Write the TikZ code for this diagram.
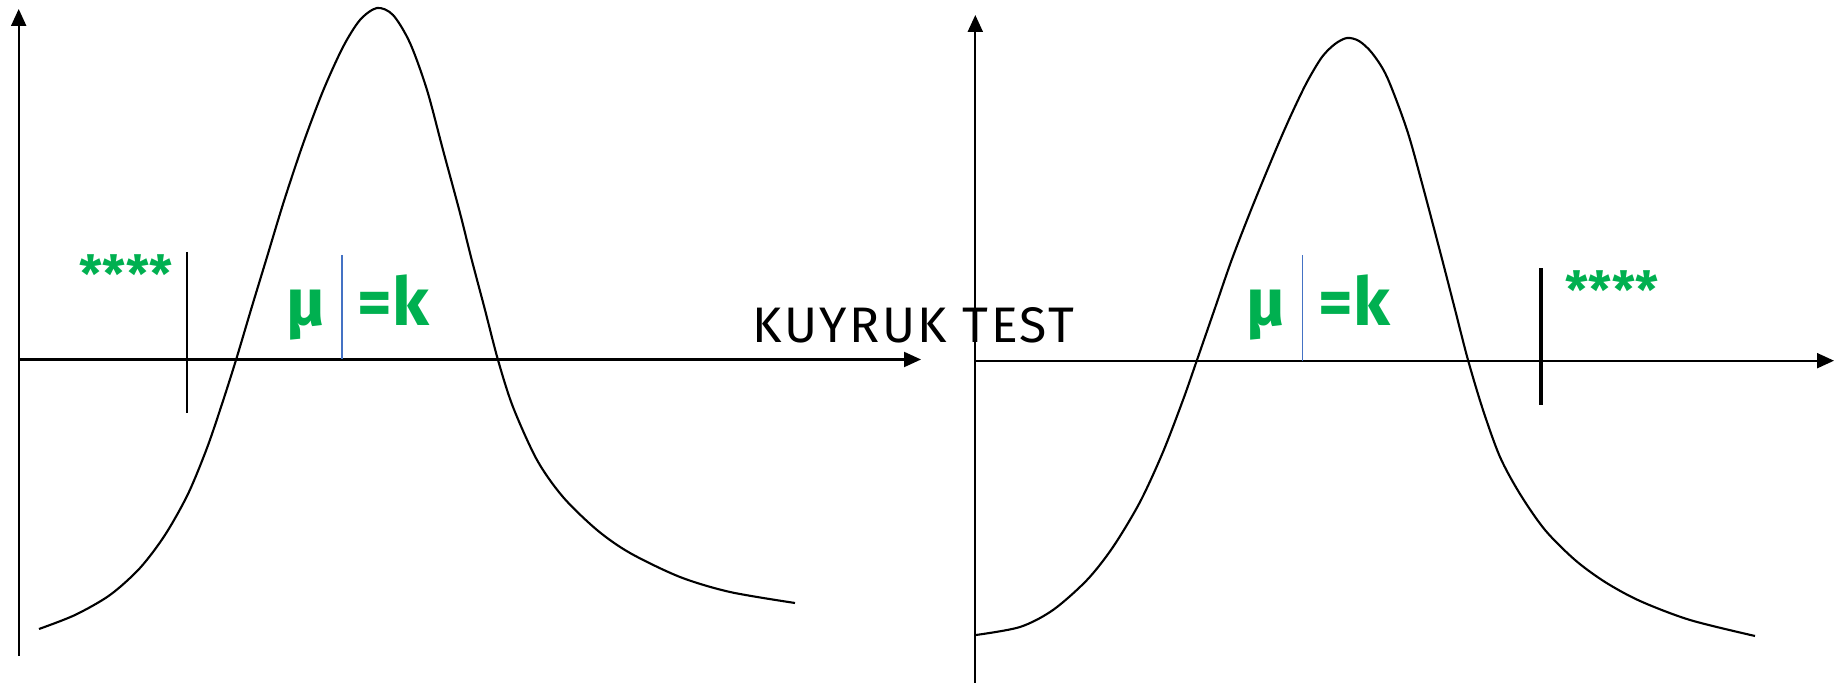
\documentclass[tikz,border=0pt]{standalone}
\usepackage{fontspec}
\setmainfont{Fira Sans}
\usetikzlibrary{arrows.meta}
\definecolor{hgreen}{HTML}{00B050}
\definecolor{hblue}{HTML}{4472C4}

\begin{document}
\begin{tikzpicture}[x=0.01cm, y=-0.01cm, >={Triangle[length=0.17cm,width=0.15cm]},
  axis/.style={->, line width=0.6pt},
  curve/.style={line width=0.6pt, line join=round},
  tickline/.style={line width=0.7pt},
  meanline/.style={hblue, line width=0.4pt},
  greenlbl/.style={text=hgreen, font=\fontsize{19}{22}\selectfont\bfseries, inner sep=0pt},
  stars/.style={text=hgreen, font=\fontsize{14.5}{18}\selectfont\bfseries, inner sep=0pt}]
\useasboundingbox (0,0) rectangle (1836,683);

% Left graph
\coordinate (LO) at (18.7,359.5);
\coordinate (LX) at (921,359.5);
\coordinate (LYb) at (18.7,656);
\coordinate (LYt) at (18.7,9);
\draw[axis] (LO) -- (LX);
\draw[axis] (LYb) -- (LYt);
\coordinate (LTt) at (187,252);
\coordinate (LTb) at (187,413);
\draw[tickline] (LTt) -- (LTb);
\coordinate (LMt) at (342,255);
\coordinate (LMb) at (342,359.5);
\draw[meanline] (LMt) -- (LMb);
\draw[curve] plot[smooth, tension=0.5] coordinates {(39,629) (75,615) (110,595) (140,568) (165,535) (188,494) (207,448) (222,404) (236,360) (251.5,308) (267,257) (284,201) (303,144) (323,91) (343,47) (360,20) (377,8) (393,15) (410,43) (427,90) (443,150) (460,213) (471,257) (484.5,308) (498,360) (513,407) (537,460) (563,497) (597,530) (630,553) (680,577) (730,592) (795,603)};
\node[stars] (lstars) at (126,274) {****};
\node[greenlbl, anchor=base] (lmu) at (306,326) {μ};
\node[greenlbl, anchor=base west] (lk) at (357,326) {=k};

% Title
\node[anchor=base, font=\fontsize{14.2}{16}\selectfont\addfontfeatures{LetterSpace=5}, inner sep=0pt] (title) at (913.5,343) {KUYRUK TEST};

% Right graph
\coordinate (RO) at (975.3,360.7);
\coordinate (RX) at (1834,360.7);
\coordinate (RYb) at (975.3,683);
\coordinate (RYt) at (975.3,15);
\draw[axis] (RO) -- (RX);
\draw[axis] (RYb) -- (RYt);
\coordinate (RTt) at (1541,268.5);
\coordinate (RTb) at (1541,405);
\draw[tickline, line width=0.9pt] (RTt) -- (RTb);
\coordinate (RMt) at (1302.7,255.5);
\coordinate (RMb) at (1302.7,360.7);
\draw[meanline] (RMt) -- (RMb);
\draw[curve] plot[smooth, tension=0.5] coordinates {(976,635) (1020,627) (1053,610) (1087,580) (1113,547) (1140,502) (1163,452) (1183,400) (1197,360) (1214.5,309.5) (1232,259) (1253,205) (1277,147) (1292,113) (1307,82) (1322,57) (1335,44) (1347,38) (1359,41) (1372,53) (1387,77) (1407,130) (1423,187) (1442,259) (1455,309.5) (1468,360) (1483,410) (1500,457) (1520,494) (1545,530) (1575,560) (1605,582) (1640,601) (1690,620) (1755,636)};
\node[stars] (rstars) at (1612,290) {****};
\node[greenlbl, anchor=base] (rmu) at (1266,326) {μ};
\node[greenlbl, anchor=base west] (rk) at (1318,326) {=k};
\end{tikzpicture}
\end{document}
